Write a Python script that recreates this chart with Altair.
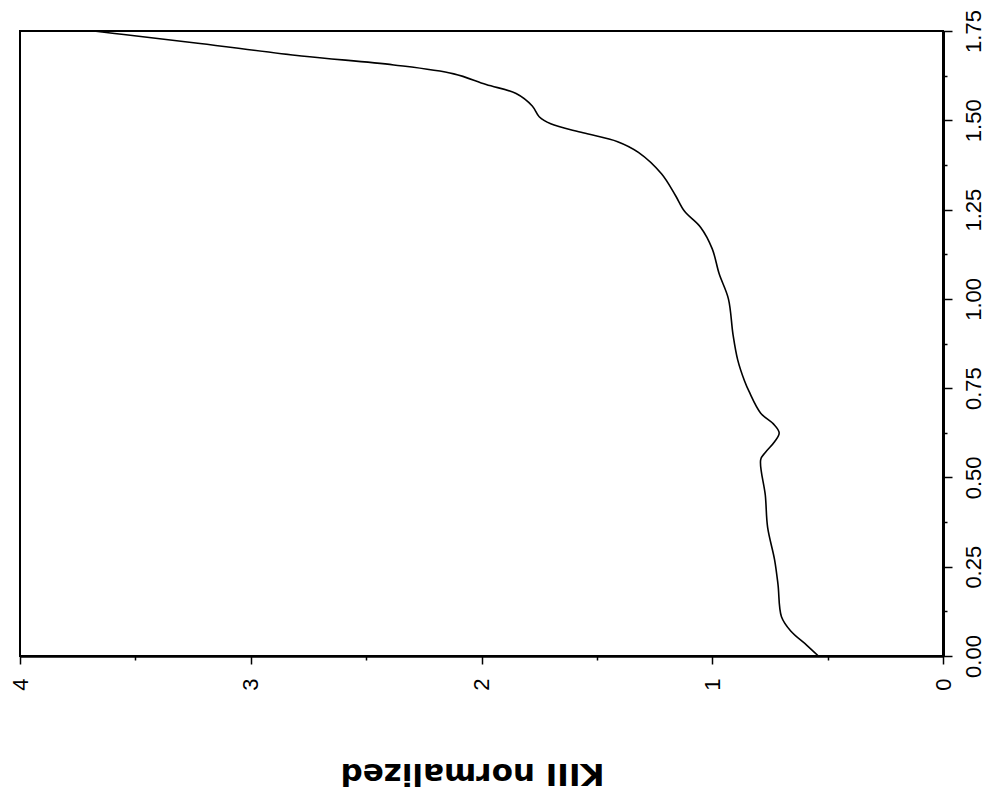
import altair as alt
import pandas as pd

# vertical variable (0.00 .. 1.75) and KIII normalized
x_vals = [0.00, 0.03, 0.07, 0.11, 0.20, 0.27, 0.36, 0.45, 0.55, 0.57,
          0.60, 0.625, 0.65, 0.68, 0.74, 0.77, 0.83, 0.90, 1.00, 1.07,
          1.14, 1.20, 1.245, 1.29, 1.35, 1.41, 1.44, 1.465, 1.49, 1.51,
          1.54, 1.575, 1.60, 1.63, 1.655, 1.68, 1.715, 1.74, 1.75]
kiii = [0.54, 0.59, 0.66, 0.70, 0.715, 0.73, 0.76, 0.77, 0.79, 0.77,
        0.73, 0.71, 0.735, 0.79, 0.84, 0.86, 0.89, 0.91, 0.93, 0.97,
        1.00, 1.05, 1.12, 1.16, 1.22, 1.32, 1.41, 1.56, 1.70, 1.75,
        1.78, 1.85, 1.98, 2.12, 2.38, 2.78, 3.22, 3.55, 3.68]

x_ticks = [i * 0.125 for i in range(15)]
k_ticks = [i * 0.5 for i in range(9)]

data = pd.DataFrame({"x": x_vals, "kiii": kiii})

FONT = "Liberation Sans"

chart = alt.Chart(data).mark_line(
    color="black", strokeWidth=1.6, interpolate="catmull-rom"
).encode(
    alt.X("kiii:Q")
        .scale(domain=[0, 4], reverse=True, nice=False)
        .axis(values=k_ticks, orient="bottom", grid=False,
              labelExpr="datum.value % 1 === 0 ? format(datum.value, 'd') : ''",
              tickSize=alt.condition("datum.value % 1 === 0", alt.value(8), alt.value(4)),
              tickColor="black", tickWidth=1.5,
              domainColor="black", domainWidth=2.5,
              labelAngle=-90, labelAlign="center", labelBaseline="middle",
              labelPadding=20, labelFont=FONT, labelFontSize=22, labelColor="black",
              titleFont="DejaVu Sans", titleFontSize=31, titleFontWeight="bold",
              titleColor="black", titleAngle=180, titleAlign="center",
              titleBaseline="middle", titleX=452, titleY=116)
        .title("KIII normalized"),
    alt.Y("x:Q")
        .scale(domain=[0, 1.75], nice=False)
        .axis(values=x_ticks, orient="right", grid=False,
              labelExpr="datum.value % 0.25 === 0 ? format(datum.value, '.2f') : ''",
              tickSize=alt.condition("datum.value % 0.25 === 0", alt.value(9), alt.value(4)),
              tickColor="black", tickWidth=1.5,
              domainColor="black", domainWidth=3,
              labelAngle=-90, labelAlign="center", labelBaseline="middle",
              labelPadding=21, labelFont=FONT, labelFontSize=22, labelColor="black")
        .title(""),
    order="x:Q",
).properties(
    width=923,
    height=625,
    background="white",
    autosize=alt.AutoSizeParams(type="none"),
    padding={"left": 12, "top": 23, "right": 45, "bottom": 138},
).configure_view(
    stroke="black", strokeWidth=2
)

chart.save("out.html", embed_options={"renderer": "svg", "actions": False})
